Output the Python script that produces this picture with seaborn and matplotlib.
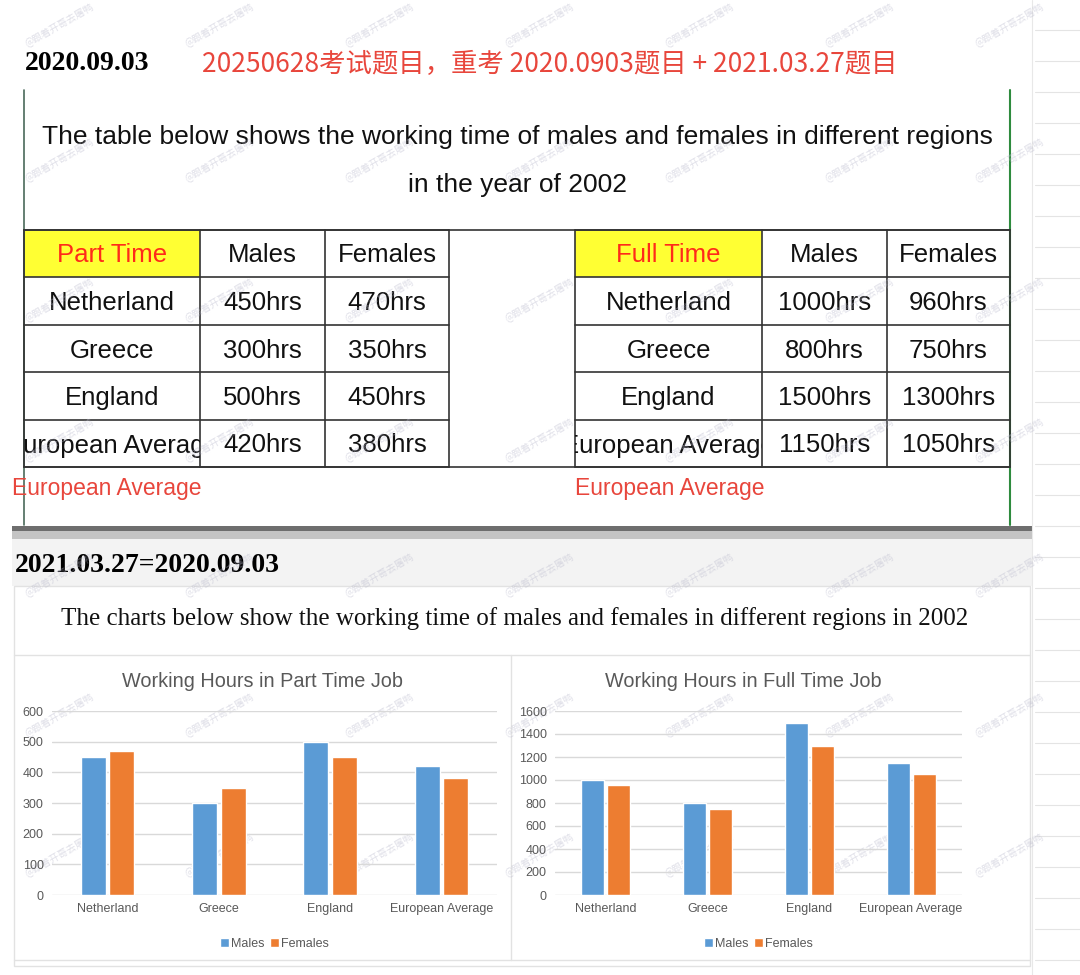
import numpy as np
import pandas as pd
import matplotlib
matplotlib.use('Agg')
import matplotlib.pyplot as plt
import seaborn as sns
from matplotlib.patches import Rectangle
from matplotlib.transforms import Bbox, TransformedBbox

# data
regions = ['Netherland', 'Greece', 'England', 'European Average']
part_males = [450, 300, 500, 420]
part_females = [470, 350, 450, 380]
full_males = [1000, 800, 1500, 1150]
full_females = [960, 750, 1300, 1050]
sexes = ['Males', 'Females']

BLUE = '#5b9bd5'
ORANGE = '#ed7d31'
GREY = '#595959'
RED = '#e8463c'

sns.set_theme(style='white')
plt.rcParams['font.family'] = ['Liberation Sans', 'Noto Sans CJK SC', 'DejaVu Sans']

SANS = ['Liberation Sans', 'DejaVu Sans']
SERIF = ['Liberation Serif', 'DejaVu Serif']
CJK = ['Noto Sans CJK SC', 'DejaVu Sans']

fig = plt.figure(figsize=(10.8, 9.75), dpi=100)
fig.patch.set_facecolor('white')

# background canvas in pixel coordinates
bg = fig.add_axes([0, 0, 1, 1], zorder=0)
bg.set_xlim(0, 1080)
bg.set_ylim(975, 0)
bg.axis('off')

# notebook lines on the right edge
for yy in np.arange(30, 975, 31):
    bg.plot([1035, 1080], [yy, yy], color='#e4e4e4', lw=0.8)
bg.plot([1032, 1032], [0, 975], color='#e8e8e8', lw=0.8)

# top section
bg.text(25, 63, '2020.09.03', family=SERIF, fontweight='bold', fontsize=20,
        va='center', ha='left', color='black')
bg.text(202, 64, '20250628考试题目，重考 2020.0903题目 + 2021.03.27题目',
        family=CJK, fontsize=19, va='center', ha='left', color=RED)

bg.plot([24, 24], [90, 525], color='#4a6a5a', lw=1.2)
bg.plot([1010, 1010], [90, 525], color='#2e8b3e', lw=1.5)

bg.text(517, 137, 'The table below shows the working time of males and females in different regions',
        family=SANS, fontsize=19, ha='center', va='center', color='#111111')
bg.text(517, 185, 'in the year of 2002',
        family=SANS, fontsize=19, ha='center', va='center', color='#111111')

CELL_FS = 18.5


def draw_table(x_edges, row_edges, head, males, females):
    x0, x1, x2, x3 = x_edges
    bg.add_patch(Rectangle((x0, row_edges[0]), x1 - x0, row_edges[1] - row_edges[0],
                           facecolor='#ffff33', edgecolor='none', zorder=1))
    for yy in row_edges:
        bg.plot([x0, x3], [yy, yy], color='#333333', lw=1.2, zorder=2)
    for xx in x_edges:
        bg.plot([xx, xx], [row_edges[0], row_edges[-1]], color='#333333', lw=1.2, zorder=2)
    cy = [(row_edges[i] + row_edges[i + 1]) / 2 + 2 for i in range(len(row_edges) - 1)]
    bg.text((x0 + x1) / 2, cy[0], head, family=SANS, fontsize=CELL_FS, ha='center',
            va='center', color='#ff2a1a', zorder=3)
    bg.text((x1 + x2) / 2, cy[0], 'Males', family=SANS, fontsize=CELL_FS, ha='center',
            va='center', color='#111111', zorder=3)
    bg.text((x2 + x3) / 2, cy[0], 'Females', family=SANS, fontsize=CELL_FS, ha='center',
            va='center', color='#111111', zorder=3)
    clip = TransformedBbox(Bbox([[x0, row_edges[0]], [x1, row_edges[-1]]]), bg.transData)
    for i, r in enumerate(regions):
        t = bg.text((x0 + x1) / 2, cy[i + 1], r, family=SANS, fontsize=CELL_FS,
                    ha='center', va='center', color='#111111', zorder=3)
        t.set_clip_box(clip)
        t.set_clip_on(True)
        bg.text((x1 + x2) / 2, cy[i + 1], f'{males[i]}hrs', family=SANS, fontsize=CELL_FS,
                ha='center', va='center', color='#111111', zorder=3)
        bg.text((x2 + x3) / 2, cy[i + 1], f'{females[i]}hrs', family=SANS, fontsize=CELL_FS,
                ha='center', va='center', color='#111111', zorder=3)


rows_y = [230, 277, 325, 372, 420, 467]
draw_table([24, 200, 325, 449], rows_y, 'Part Time', part_males, part_females)
draw_table([575, 762, 887, 1010], rows_y, 'Full Time', full_males, full_females)
bg.plot([24, 1010], [230, 230], color='#333333', lw=1.2)
bg.plot([24, 1010], [467, 467], color='#333333', lw=1.2)

bg.text(12, 488, 'European Average', fontsize=16.5, color=RED, ha='left', va='center')
bg.text(575, 489, 'European Average', fontsize=16.5, color=RED, ha='left', va='center')

# shadow band between the two screenshots
bg.add_patch(Rectangle((12, 526), 1020, 5, facecolor='#6e6e6e', edgecolor='none'))
bg.add_patch(Rectangle((12, 531), 1020, 8, facecolor='#c4c4c4', edgecolor='none'))
bg.add_patch(Rectangle((12, 539), 1020, 47, facecolor='#f3f3f3', edgecolor='none'))

# bottom section
bg.text(15, 565, '2021.03.27=2020.09.03', family=SERIF, fontweight='bold', fontsize=20,
        va='center', ha='left', color='black')
bg.add_patch(Rectangle((14, 586), 1016, 380, facecolor='white', edgecolor='#e2e2e2', lw=1))
bg.text(515, 619, 'The charts below show the working time of males and females in different regions in 2002',
        family=SERIF, fontsize=18, ha='center', va='center', color='#111111')
bg.plot([14, 1030], [655, 655], color='#e2e2e2', lw=1)
bg.plot([511, 511], [655, 960], color='#e2e2e2', lw=1)
bg.plot([14, 1030], [960, 960], color='#e2e2e2', lw=1)

# watermarks
for wy in [25, 160, 300, 440, 575, 715, 855]:
    for wx in [60, 220, 380, 540, 700, 860, 1010]:
        bg.text(wx, wy, '@跟着开哥去屠鸭', family=CJK, fontsize=7, rotation=30,
                color='#b9b9cc', alpha=0.45, ha='center', va='center', zorder=5)


def bar_chart(rect, males, females, ymax, step, title, title_x):
    ax = fig.add_axes(rect, zorder=2)
    df = pd.DataFrame({
        'region': regions * 2,
        'hours': males + females,
        'sex': [sexes[0]] * len(regions) + [sexes[1]] * len(regions),
    })
    sns.barplot(data=df, x='region', y='hours', hue='sex', palette=[BLUE, ORANGE],
                width=0.51, gap=0.12, ax=ax, saturation=1, zorder=3)
    ax.set_ylim(0, ymax)
    ax.set_yticks(np.arange(0, ymax + 1, step))
    ax.set_xlim(-0.5, len(regions) - 0.5)
    ax.yaxis.grid(True, color='#d9d9d9', lw=1, zorder=0)
    ax.set_axisbelow(True)
    for s in ax.spines.values():
        s.set_visible(False)
    ax.tick_params(length=0, labelsize=9, colors=GREY, pad=6)
    ax.set_xlabel('')
    ax.set_ylabel('')
    ax.set_title(title, fontsize=14.3, color=GREY, pad=17, x=title_x)
    ax.legend(loc='upper center', bbox_to_anchor=(0.5, -0.17), ncol=2, frameon=False,
              handlelength=0.7, handleheight=0.7, columnspacing=0.4, handletextpad=0.2,
              fontsize=9, labelcolor=GREY)
    ax.patch.set_alpha(0)
    return ax


bar_chart([52 / 1080, 80 / 975, 445 / 1080, 184 / 975], part_males, part_females, 600, 100,
          'Working Hours in Part Time Job', 0.472)
bar_chart([555 / 1080, 80 / 975, 407 / 1080, 184 / 975], full_males, full_females, 1600, 200,
          'Working Hours in Full Time Job', 0.462)

fig.savefig('out.png', dpi=100)
